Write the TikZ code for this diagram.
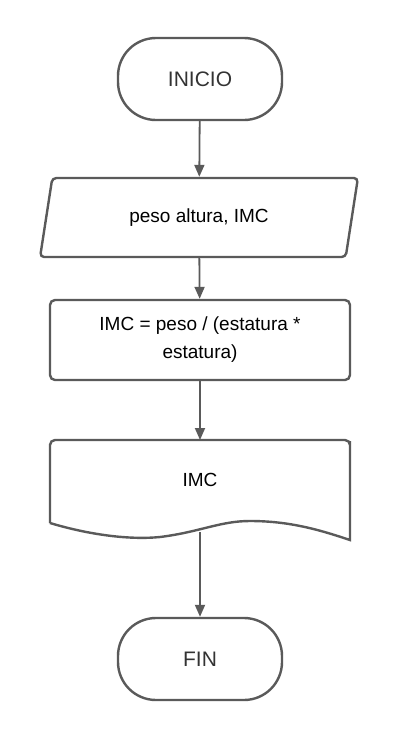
\documentclass[tikz,border=0pt]{standalone}
\usepackage{fontspec}
\setmainfont{Liberation Sans}
\usepackage{xcolor}
\usetikzlibrary{shapes.geometric, arrows.meta}
\usetikzlibrary{positioning}
\definecolor{linegray}{HTML}{5A5A5A}
\definecolor{textgray}{HTML}{333333}
\tikzstyle{terminal} = [rectangle, rounded corners=38pt, minimum width=164pt, minimum height=82pt, draw=linegray, line width=2.4pt, text=textgray, font=\fontsize{21}{25}\selectfont]
\tikzstyle{io} = [trapezium, trapezium left angle=76, trapezium right angle=104, trapezium stretches=true, minimum width=318pt, minimum height=79pt, rounded corners=4pt, draw=linegray, line width=2.4pt, font=\fontsize{19}{28}\selectfont]
\tikzstyle{process} = [rectangle, rounded corners=5pt, minimum width=300pt, minimum height=80pt, draw=linegray, line width=2.4pt, align=center, font=\fontsize{19}{28}\selectfont]
\tikzstyle{docbox} = [rectangle, minimum width=300pt, minimum height=80pt, font=\fontsize{19}{28}\selectfont]
\tikzstyle{flow} = [line width=1.8pt, draw=linegray, ->, >={Triangle[length=12pt,width=10pt]}]

\begin{document}
\begin{tikzpicture}[x=1pt, y=-1pt]
        \useasboundingbox (0,0) rectangle (400,740);
        % start
        \node (start) [terminal] at (200,79) {INICIO};
        % input
        \node (input) [io] at (199,217.5) {peso altura, IMC};
        % calculation
        \node (calc) [process] at (200,340) {IMC = peso / (estatura *\\estatura)};
        % output document
        \node (doc) [docbox] at (200,480) {IMC};
        \draw [draw=linegray, line width=2.4pt]
          (50,523) -- (50,444) [rounded corners=5pt] -- (50,440) -- (350,440) -- (350,446)
          [sharp corners] -- (350,540)
          .. controls (320,530) and (290,521) .. (250,521)
          .. controls (220,521) and (200,532) .. (160,537)
          .. controls (130,540) and (90,535) .. (50,523);
        \coordinate (docbot) at (200,532);
        % end
        \node (stop) [terminal] at (200,659) {FIN};
        % arrows
        \draw [flow] (start) -- (input);
        \draw [flow] (input) -- (calc);
        \draw [flow] (calc) -- (200,440);
        \draw [flow] (docbot) -- (stop);
\end{tikzpicture}
\end{document}
